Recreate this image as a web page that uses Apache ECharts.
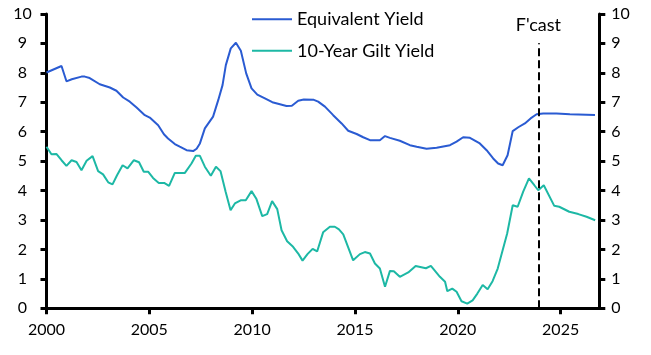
<!DOCTYPE html>
<html>
<head>
<meta charset="utf-8">
<script src="https://cdn.jsdelivr.net/npm/echarts@6/dist/echarts.min.js"></script>
<style>html,body{margin:0;padding:0;background:#fff;}#c{width:651px;height:355px;}</style>
</head>
<body>
<div id="c"></div>
<script>
const seriesNames = ['Equivalent Yield', '10-Year Gilt Yield'];
const xTickLabels = [2000, 2005, 2010, 2015, 2020, 2025];
const yTickLabels = [0,1,2,3,4,5,6,7,8,9,10];
const forecastYear = 2023.92;
const forecastLabel = "F'cast";

const eqYears = [2000.00,2000.73,2000.97,2001.23,2001.70,2001.86,2002.10,2002.59,2003.08,2003.40,2003.73,2004.05,2004.38,2004.78,2005.02,2005.43,2005.71,2005.91,2006.24,2006.48,2006.81,2007.13,2007.30,2007.46,2007.70,2008.10,2008.35,2008.56,2008.72,2008.96,2009.21,2009.45,2009.71,2009.97,2010.25,2010.62,2010.98,2011.35,2011.67,2011.93,2012.24,2012.51,2013.00,2013.21,2013.54,2013.94,2014.35,2014.67,2015.08,2015.40,2015.73,2016.21,2016.46,2016.70,2017.18,2017.67,2018.00,2018.48,2018.97,2019.62,2019.94,2020.26,2020.59,2021.07,2021.40,2021.72,2021.96,2022.18,2022.42,2022.67,2022.94,2023.26,2023.54,2023.83,2024.15,2024.80,2025.45,2026.67];
const eqValues = [8.01,8.23,7.71,7.78,7.87,7.87,7.82,7.61,7.50,7.39,7.16,7.02,6.82,6.56,6.48,6.22,5.91,5.77,5.58,5.49,5.37,5.34,5.42,5.60,6.11,6.51,7.07,7.58,8.26,8.83,9.02,8.75,7.98,7.47,7.26,7.13,7.00,6.93,6.87,6.88,7.05,7.09,7.08,7.02,6.85,6.56,6.28,6.03,5.92,5.81,5.71,5.71,5.85,5.79,5.69,5.54,5.49,5.42,5.45,5.54,5.66,5.81,5.79,5.60,5.37,5.09,4.92,4.86,5.20,6.02,6.15,6.28,6.45,6.59,6.62,6.62,6.59,6.57];

const giltYears = [2000.00,2000.24,2000.49,2000.73,2000.97,2001.22,2001.46,2001.70,2001.95,2002.24,2002.51,2002.75,2003.00,2003.21,2003.43,2003.70,2003.94,2004.25,2004.50,2004.73,2004.94,2005.18,2005.46,2005.72,2005.96,2006.24,2006.48,2006.73,2007.05,2007.26,2007.46,2007.70,2007.99,2008.24,2008.46,2008.71,2008.95,2009.16,2009.44,2009.69,2009.97,2010.21,2010.49,2010.73,2010.97,2011.22,2011.43,2011.70,2011.99,2012.24,2012.45,2012.69,2012.94,2013.16,2013.45,2013.78,2014.02,2014.22,2014.43,2014.91,2015.24,2015.48,2015.73,2015.97,2016.21,2016.46,2016.70,2016.89,2017.18,2017.59,2017.95,2018.45,2018.69,2019.13,2019.38,2019.49,2019.73,2019.94,2020.18,2020.46,2020.72,2020.95,2021.21,2021.45,2021.69,2021.94,2022.18,2022.40,2022.67,2022.91,2023.18,2023.46,2023.72,2023.91,2024.18,2024.69,2024.93,2025.42,2025.86,2026.26,2026.68];
const giltValues = [5.49,5.23,5.24,5.03,4.84,5.03,4.97,4.69,5.01,5.17,4.66,4.55,4.28,4.21,4.52,4.86,4.75,5.03,4.96,4.64,4.64,4.43,4.26,4.26,4.16,4.60,4.60,4.60,4.92,5.18,5.18,4.81,4.50,4.81,4.66,3.96,3.33,3.56,3.67,3.67,3.98,3.71,3.13,3.20,3.64,3.37,2.65,2.28,2.09,1.86,1.62,1.84,2.02,1.93,2.58,2.77,2.77,2.68,2.51,1.63,1.84,1.91,1.86,1.52,1.35,0.73,1.27,1.26,1.07,1.22,1.44,1.36,1.44,1.07,0.90,0.58,0.67,0.56,0.24,0.16,0.27,0.50,0.79,0.65,0.92,1.35,1.97,2.54,3.50,3.45,3.96,4.41,4.18,4.01,4.18,3.48,3.45,3.28,3.20,3.11,2.99];

const FONT = 'Lato';
const pairs = (xs, ys) => xs.map((x, i) => [x, ys[i]]);

const chart = echarts.init(document.getElementById('c'), null, {renderer: 'canvas'});
const axisLine = {show: true, lineStyle: {color: '#000', width: 3}};
const axisTick = {show: true, length: 6, lineStyle: {color: '#000', width: 3}};
chart.setOption({
  animation: false,
  backgroundColor: '#fff',
  grid: {left: 46.5, right: 51.7, top: 13.9, bottom: 46.7, containLabel: false},
  legend: {
    orient: 'vertical', left: 251, top: 10.3, padding: 0,
    itemWidth: 40, itemHeight: 20, itemGap: 13.4,
    itemStyle: {opacity: 0},
    lineStyle: {width: 2},
    textStyle: {fontFamily: FONT, fontSize: 18, color: '#000'},
    data: seriesNames
  },
  xAxis: {
    type: 'value', min: 2000, max: 2026.88,
    splitLine: {show: false},
    axisLine: axisLine,
    axisTick: Object.assign({}, axisTick, {customValues: xTickLabels}),
    axisLabel: {customValues: xTickLabels, formatter: v => String(v), fontFamily: FONT, fontSize: 16, color: '#000', margin: 14}
  },
  yAxis: [
    {
      type: 'value', min: 0, max: 10, interval: 1, position: 'left',
      splitLine: {show: false}, axisLine: axisLine, axisTick: axisTick,
      axisLabel: {fontFamily: FONT, fontSize: 16, color: '#000', margin: 24, align: 'center'}
    },
    {
      type: 'value', min: 0, max: 10, interval: 1, position: 'right',
      splitLine: {show: false}, axisLine: axisLine, axisTick: axisTick,
      axisLabel: {fontFamily: FONT, fontSize: 16, color: '#000', margin: 12, align: 'left'}
    }
  ],
  series: [
    {
      name: seriesNames[0], type: 'line', symbol: 'none', smooth: false,
      data: pairs(eqYears, eqValues),
      lineStyle: {color: '#2a5bd2', width: 2}, itemStyle: {color: '#2a5bd2'},
      markLine: {
        silent: true, symbol: ['none', 'none'],
        lineStyle: {color: '#000', width: 2, type: [8, 4]},
        label: {show: true, position: 'end', formatter: forecastLabel, fontFamily: FONT, fontSize: 18, color: '#000', distance: 9},
        data: [[{coord: [forecastYear, 0]}, {coord: [forecastYear, 9]}]]
      }
    },
    {
      name: seriesNames[1], type: 'line', symbol: 'none', smooth: false,
      data: pairs(giltYears, giltValues),
      lineStyle: {color: '#1db8a5', width: 2}, itemStyle: {color: '#1db8a5'}
    }
  ]
});
</script>
</body>
</html>
